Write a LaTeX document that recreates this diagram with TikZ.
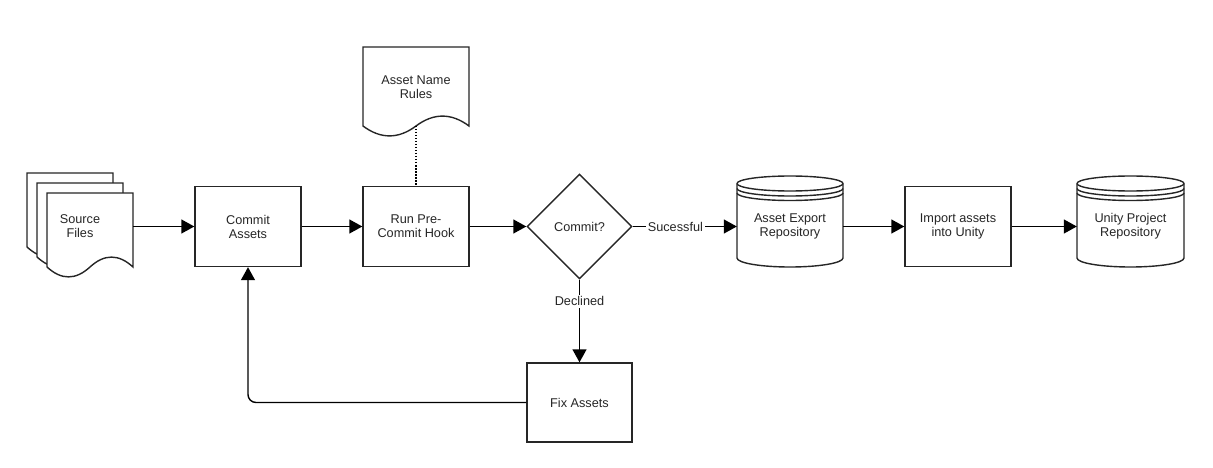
\documentclass[tikz,border=0pt]{standalone}
\usepackage{fontspec}
\setmainfont{Liberation Sans}
\usetikzlibrary{arrows.meta,shapes.geometric}

\newcommand\docpage[4]{%
    % #1: Left x
    % #2: Top y
    % #3: Width
    % #4: Height
    \pgfmathsetmacro{\docright}{#1+#3}
    \pgfmathsetmacro{\docmid}{#1+.5*#3}
    \pgfmathsetmacro{\docbase}{#2+#4-11}
    \pgfmathsetmacro{\docup}{#2+#4-24.2}
    \pgfmathsetmacro{\docdown}{#2+#4+2.2}
    \pgfmathsetmacro{\docstep}{#3/6}
    \draw[shapeline,fill=white] (#1,#2) -- (\docright,#2) -- (\docright,\docbase)
        .. controls (\docright-\docstep,\docup) and (\docmid+\docstep,\docup) .. (\docmid,\docbase)
        .. controls (\docmid-\docstep,\docdown) and (#1+\docstep,\docdown) .. (#1,\docbase)
        -- cycle;
}
\newcommand\datastore[4]{%
    % #1: Left x
    % #2: Top y
    % #3: Width
    % #4: Height
    \pgfmathsetmacro{\dsright}{#1+#3}
    \pgfmathsetmacro{\dsrad}{#3/2}
    \pgfmathsetmacro{\dstop}{#2+7.5}
    \pgfmathsetmacro{\dsbot}{#2+#4-9}
    \draw[shapeline,fill=white] (#1,\dstop)
        arc[start angle=180,end angle=0,x radius=\dsrad pt,y radius=7.5pt]
        -- (\dsright,\dsbot)
        arc[start angle=0,end angle=-180,x radius=\dsrad pt,y radius=9pt]
        -- cycle;
    \foreach \k in {0,5,9.5}
        \draw[shapeline] (#1,\dstop+\k) arc[start angle=180,end angle=360,x radius=\dsrad pt,y radius=7.5pt];
}

\begin{document}
\begin{tikzpicture}[x=1pt,y=-1pt,
        shapeline/.style={draw=black!85,line width=1.4pt},
        txt/.style={font=\fontsize{12.7}{14}\selectfont,align=center,text=black!85},
        box/.style={txt,shapeline,fill=white,minimum width=106pt,minimum height=80pt,inner sep=0pt},
        plain/.style={txt,minimum width=106pt,minimum height=80pt,inner sep=0pt},
        decision/.style={txt,shapeline,fill=white,diamond,minimum width=105pt,minimum height=105pt,inner sep=0pt},
        flow/.style={line width=1.4pt,-{Triangle[length=13pt,width=14pt]}},
        edgelabel/.style={txt,fill=white,inner sep=2pt},
        rulelink/.style={line width=1.4pt,dash pattern=on 1.5pt off 1.5pt},
    ]
    \useasboundingbox (0,0) rectangle (1213,468);

    % Source files
    \docpage{27}{173}{86}{85}
    \docpage{37}{183}{86}{85}
    \docpage{47}{193}{86}{85}
    \node[plain,minimum height=105pt] (src) at (80,226.5) {Source\\Files};

    \node[box] (commit) at (248,226.5) {Commit\\Assets};
    \node[box] (run) at (416,226.5) {Run Pre-\\Commit Hook};
    \node[decision] (check) at (579.5,226.5) {Commit?};

    \datastore{737}{176}{106}{91}
    \node[plain,minimum width=106pt] (export) at (790,226.5) {Asset Export\\Repository};
    \node[box] (import) at (958,226.5) {Import assets\\into Unity};
    \datastore{1077}{176}{107}{91}
    \node[plain,minimum width=107pt] (unity) at (1130.5,226.5) {Unity Project\\Repository};

    \node[box,minimum width=105pt,minimum height=79pt] (fix) at (579.5,402.5) {Fix Assets};

    % Rules document
    \docpage{363}{47}{106}{90}
    \node[txt] (rules) at (416,87) {Asset Name\\Rules};
    \coordinate (rulesfoot) at (416,126);
    \draw[rulelink] (rulesfoot) -- (run);

    \draw[flow] (src) -- (commit);
    \draw[flow] (commit) -- (run);
    \draw[flow] (run) -- (check);
    \draw[flow] (check) -- node[edgelabel,pos=.41] (okay) {Sucessful} (export);
    \draw[flow] (export) -- (import);
    \draw[flow] (import) -- (unity);
    \draw[flow] (check) -- node[edgelabel,pos=.26] (nope) {Declined} (fix);
    \draw[flow,rounded corners=8pt] (fix) -| (commit);

\end{tikzpicture}
\end{document}
